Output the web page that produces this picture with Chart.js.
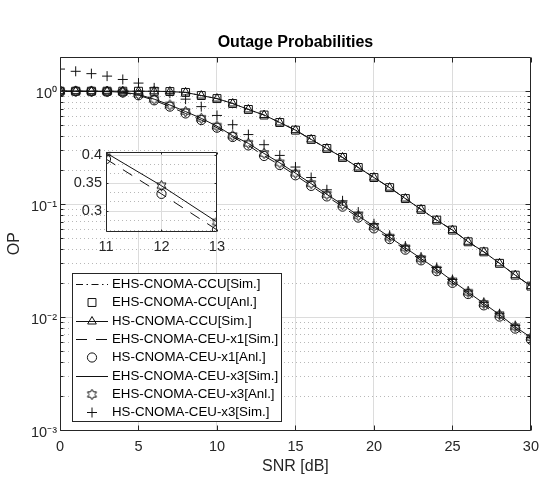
<!DOCTYPE html>
<html><head><meta charset="utf-8">
<script src="https://cdn.jsdelivr.net/npm/chart.js@4/dist/chart.umd.min.js"></script>
<style>
html,body{margin:0;padding:0;background:#fff;}
#wrap{position:relative;width:547px;height:484px;overflow:hidden;}
#main{position:absolute;left:0;top:0;}
#inset{position:absolute;left:60px;top:139px;}
</style></head><body>
<div id="wrap"><canvas id="main" width="547" height="484"></canvas><canvas id="inset" width="172" height="117"></canvas></div>
<script>
// ---------------- data ----------------
const snr = [0,1,2,3,4,5,6,7,8,9,10,11,12,13,14,15,16,17,18,19,20,21,22,23,24,25,26,27,28,29,30];
const ehsCcuSim = [1.0,1.0,1.0,1.0,1.0,0.999,0.998,0.993,0.975,0.915,0.86,0.778,0.689,0.615,0.528,0.452,0.374,0.311,0.259,0.211,0.172,0.140,0.112,0.0898,0.0722,0.0589,0.0464,0.0378,0.0299,0.0235,0.0188];
const ehsCcuAnl = [1.0,1.0,1.0,1.0,1.0,0.999,0.998,0.993,0.975,0.915,0.86,0.778,0.689,0.615,0.528,0.452,0.374,0.311,0.259,0.211,0.172,0.140,0.112,0.0898,0.0722,0.0589,0.0464,0.0378,0.0299,0.0235,0.0188];
const hsCcuSim  = [1.0,1.0,1.0,1.0,1.0,0.999,0.998,0.993,0.975,0.915,0.86,0.778,0.689,0.615,0.528,0.452,0.374,0.311,0.259,0.211,0.172,0.140,0.112,0.0898,0.0722,0.0589,0.0464,0.0378,0.0299,0.0235,0.0188];
const ehsCeuX1Sim = [1.0,0.998,0.995,0.99,0.975,0.92,0.83,0.73,0.635,0.555,0.475,0.393,0.331,0.267,0.222,0.18,0.145,0.117,0.095,0.076,0.061,0.049,0.0395,0.0318,0.0255,0.0201,0.016,0.0127,0.0101,0.0079,0.0063];
const hsCeuX1Anl  = [1.0,0.998,0.995,0.99,0.975,0.92,0.83,0.73,0.635,0.555,0.475,0.393,0.331,0.267,0.222,0.18,0.145,0.117,0.095,0.076,0.061,0.049,0.0395,0.0318,0.0255,0.0201,0.016,0.0127,0.0101,0.0079,0.0063];
const ehsCeuX3Sim = [1.0,1.0,0.997,0.993,0.98,0.935,0.85,0.755,0.66,0.575,0.49,0.404,0.3455,0.281,0.232,0.188,0.152,0.122,0.099,0.079,0.0635,0.051,0.041,0.033,0.0265,0.0209,0.0166,0.0132,0.0105,0.0082,0.0066];
const ehsCeuX3Anl = [1.0,1.0,0.997,0.993,0.98,0.935,0.85,0.755,0.66,0.575,0.49,0.404,0.3455,0.281,0.232,0.188,0.152,0.122,0.099,0.079,0.0635,0.051,0.041,0.033,0.0265,0.0209,0.0166,0.0132,0.0105,0.0082,0.0066];
const hsCeuX3Sim  = [1.57,1.50,1.43,1.36,1.27,1.18,1.07,0.96,0.85,0.73,0.61,0.505,0.413,0.336,0.27,0.213,0.172,0.134,0.107,0.085,0.067,0.053,0.0425,0.034,0.0275,0.0215,0.017,0.0135,0.0107,0.0084,0.0066];
const xTicks = [0,5,10,15,20,25,30];
const yDecades = [-3,-2,-1,0];
const insetXTicks = [11,12,13];
const insetYTicks = [0.3,0.35,0.4];

// ---------------- styling helpers ----------------
const FONT = "'Liberation Sans', Arial, Helvetica, sans-serif";
const AX = '#262626';
const LINE = '#111111';
const MAJOR_GRID = '#dcdcdc';
const MINOR_GRID = '#b8b8b8';
const sup = {'-':'\u207B','0':'\u2070','1':'\u00B9','2':'\u00B2','3':'\u00B3'};
function isPow10(v){ const l = Math.log10(v); return Math.abs(l - Math.round(l)) < 1e-9; }
function pow10Label(v){ const e = String(Math.round(Math.log10(v))); return '10' + e.split('').map(c => sup[c] || c).join(''); }

const yAllTicks = [];
yDecades.forEach(d => { for (let m = 1; m <= 9; m++) { const v = +(m * Math.pow(10, d)).toPrecision(6); if (v < 2) yAllTicks.push(v); } });

function makeHexagram(r, color) {
  const s = Math.ceil(2 * r + 4);
  const c = document.createElement('canvas'); c.width = s; c.height = s;
  const g = c.getContext('2d');
  g.strokeStyle = color; g.lineWidth = 1;
  g.beginPath();
  const cx = s / 2, cy = s / 2, ri = r / Math.sqrt(3);
  for (let k = 0; k < 12; k++) {
    const ang = -Math.PI / 2 + k * Math.PI / 6;
    const rr = (k % 2 === 0) ? r : ri;
    const px = cx + rr * Math.cos(ang), py = cy + rr * Math.sin(ang);
    if (k) g.lineTo(px, py); else g.moveTo(px, py);
  }
  g.closePath(); g.stroke();
  return c;
}
const hexagram = makeHexagram(5.2, LINE);
const pts = arr => snr.map((x, i) => ({x: x, y: arr[i]}));

const DASHDOT = [7, 3.5, 1.5, 3.5];
const DASHED = [11, 9];

function ds(label, arr, o) {
  return Object.assign({
    label: label, data: pts(arr), borderColor: LINE, borderWidth: 1,
    pointBorderColor: LINE, pointBackgroundColor: 'rgba(0,0,0,0)', pointBorderWidth: 1,
    pointRadius: 0, showLine: true, tension: 0, fill: false, borderDash: []
  }, o);
}

const mainDatasets = [
  ds('EHS-CNOMA-CCU[Sim.]', ehsCcuSim, {borderDash: DASHDOT}),
  ds('EHS-CNOMA-CCU[Anl.]', ehsCcuAnl, {showLine: false, pointStyle: 'rect', pointRadius: 5.6}),
  ds('HS-CNOMA-CCU[Sim.]', hsCcuSim, {pointStyle: 'triangle', pointRadius: 5}),
  ds('EHS-CNOMA-CEU-x1[Sim.]', ehsCeuX1Sim, {borderDash: DASHED}),
  ds('HS-CNOMA-CEU-x1[Anl.]', hsCeuX1Anl, {showLine: false, pointStyle: 'circle', pointRadius: 4.6}),
  ds('EHS-CNOMA-CEU-x3[Sim.]', ehsCeuX3Sim, {}),
  ds('EHS-CNOMA-CEU-x3[Anl.]', ehsCeuX3Anl, {showLine: false, pointStyle: hexagram, pointRadius: 5}),
  ds('HS-CNOMA-CEU-x3[Sim.]', hsCeuX3Sim, {showLine: false, pointStyle: 'cross', pointRadius: 5})
];

const px = v => Math.round(v) + 0.5;

function drawMarker(ctx, style, r, x, y) {
  ctx.save();
  ctx.strokeStyle = LINE; ctx.fillStyle = 'rgba(0,0,0,0)'; ctx.lineWidth = 1; ctx.setLineDash([]);
  if (Chart.helpers && Chart.helpers.drawPoint) {
    Chart.helpers.drawPoint(ctx, {pointStyle: style, radius: r, borderWidth: 1, rotation: 0}, x, y);
  } else if (style instanceof HTMLCanvasElement) {
    ctx.drawImage(style, x - style.width / 2, y - style.height / 2);
  }
  ctx.restore();
}

const mainFrame = {
  id: 'mainFrame',
  afterDraw(chart) {
    const {ctx, chartArea: a} = chart;
    const xs = chart.scales.x, ys = chart.scales.y;
    const L = px(a.left), R = px(a.right) - 1, T = px(a.top), B = px(a.bottom);
    ctx.save();
    ctx.strokeStyle = AX; ctx.lineWidth = 1; ctx.setLineDash([]);
    ctx.beginPath();
    ctx.rect(L, T, R - L, B - T);
    xTicks.forEach(v => {
      const X = px(xs.getPixelForValue(v));
      ctx.moveTo(X, B); ctx.lineTo(X, B - 5);
      ctx.moveTo(X, T); ctx.lineTo(X, T + 5);
    });
    yAllTicks.forEach(v => {
      const Y = px(ys.getPixelForValue(v));
      const len = isPow10(v) ? 5 : 3;
      ctx.moveTo(L, Y); ctx.lineTo(L + len, Y);
      ctx.moveTo(R, Y); ctx.lineTo(R - len, Y);
    });
    ctx.stroke();

    // legend
    const bx = Math.round(a.left) + 12, by = Math.round(a.bottom) - 157, bw = 209, bh = 148;
    ctx.fillStyle = '#ffffff';
    ctx.fillRect(bx, by, bw, bh);
    ctx.strokeStyle = AX;
    ctx.strokeRect(bx + 0.5, by + 0.5, bw, bh);
    ctx.font = '13.3px ' + FONT;
    ctx.textBaseline = 'middle'; ctx.textAlign = 'left';
    chart.data.datasets.forEach((d, i) => {
      const y = by + 11 + i * 18.33;
      if (d.showLine !== false) {
        ctx.save();
        ctx.strokeStyle = LINE; ctx.lineWidth = 1;
        ctx.setLineDash(d.borderDash || []);
        ctx.beginPath(); ctx.moveTo(bx + 4, Math.round(y) + 0.5); ctx.lineTo(bx + 36, Math.round(y) + 0.5); ctx.stroke();
        ctx.restore();
      }
      if (d.pointRadius > 0) drawMarker(ctx, d.pointStyle, d.pointRadius, bx + 20, Math.round(y) + 0.5);
      ctx.fillStyle = '#000';
      ctx.fillText(d.label, bx + 40, y + 0.5);
    });
    ctx.restore();
  }
};

new Chart(document.getElementById('main'), {
  type: 'line',
  data: {datasets: mainDatasets},
  options: {
    responsive: false, animation: false, devicePixelRatio: 1, events: [],
    layout: {padding: {left: 0, right: 14, top: 0, bottom: 0}},
    plugins: {
      legend: {display: false}, tooltip: {enabled: false},
      title: {display: true, fullSize: false, text: 'Outage Probabilities', color: '#000',
        font: {family: FONT, size: 16, weight: 'bold'}, padding: {top: 33, bottom: 5}}
    },
    scales: {
      x: {
        type: 'linear', min: 0, max: 30, bounds: 'data',
        afterBuildTicks: s => { s.ticks = xTicks.map(v => ({value: v})); },
        afterFit: s => { s.height = 54; },
        grid: {color: MAJOR_GRID, lineWidth: 1, drawTicks: false},
        border: {display: false},
        ticks: {padding: 8, color: AX, autoSkip: false, maxRotation: 0, font: {family: FONT, size: 14.5}},
        title: {display: true, text: 'SNR [dB]', color: AX, font: {family: FONT, size: 16}, padding: {top: 0, bottom: 8}}
      },
      y: {
        type: 'logarithmic', min: 1e-3, max: 2, bounds: 'data',
        afterBuildTicks: s => { s.ticks = yAllTicks.map(v => ({value: v, major: isPow10(v)})); },
        afterFit: s => { s.width = 60; },
        grid: {
          drawTicks: false, lineWidth: 1,
          color: c => (c.tick && !isPow10(c.tick.value)) ? MINOR_GRID : MAJOR_GRID
        },
        border: {display: false, dash: c => (c.tick && !isPow10(c.tick.value)) ? [1, 3] : []},
        ticks: {
          padding: 3, color: AX, autoSkip: false, labelOffset: 3, font: {family: FONT, size: 14.5},
          callback: v => isPow10(v) ? pow10Label(v) : ''
        },
        title: {display: true, text: 'OP', color: AX, font: {family: FONT, size: 16}, padding: {top: 4.5, bottom: 0}}
      }
    }
  },
  plugins: [mainFrame]
});

// ---------------- inset ----------------
const insetIdx = insetXTicks.map(v => snr.indexOf(v));
const sub = arr => insetIdx.map(i => ({x: snr[i], y: arr[i]}));
const insetMinor = [];
for (let k = -2; k <= 6; k++) insetMinor.push(+(0.3 + k * 0.05 / 3).toFixed(6));
const isInsetMajor = v => insetYTicks.some(t => Math.abs(t - v) < 1e-6);

const insetDatasets = [
  Object.assign(ds('EHS-CNOMA-CEU-x1[Sim.]', ehsCeuX1Sim, {borderDash: DASHED}), {data: sub(ehsCeuX1Sim)}),
  Object.assign(ds('HS-CNOMA-CEU-x1[Anl.]', hsCeuX1Anl, {showLine: false, pointStyle: 'circle', pointRadius: 4.6}), {data: sub(hsCeuX1Anl)}),
  Object.assign(ds('EHS-CNOMA-CEU-x3[Sim.]', ehsCeuX3Sim, {}), {data: sub(ehsCeuX3Sim)}),
  Object.assign(ds('EHS-CNOMA-CEU-x3[Anl.]', ehsCeuX3Anl, {showLine: false, pointStyle: hexagram, pointRadius: 5}), {data: sub(ehsCeuX3Anl)})
];

const insetFrame = {
  id: 'insetFrame',
  beforeDraw(chart) {
    const {ctx, chartArea: a} = chart;
    ctx.save(); ctx.fillStyle = '#fff';
    ctx.fillRect(a.left, a.top, a.right - a.left, a.bottom - a.top);
    ctx.restore();
  },
  afterDraw(chart) {
    const {ctx, chartArea: a} = chart;
    const xs = chart.scales.x, ys = chart.scales.y;
    const L = px(a.left), R = px(a.right) - 1, T = px(a.top), B = px(a.bottom);
    ctx.save();
    ctx.strokeStyle = AX; ctx.lineWidth = 1; ctx.setLineDash([]);
    ctx.beginPath();
    ctx.rect(L, T, R - L, B - T);
    insetXTicks.forEach(v => {
      const X = px(xs.getPixelForValue(v));
      ctx.moveTo(X, B); ctx.lineTo(X, B - 2);
      ctx.moveTo(X, T); ctx.lineTo(X, T + 2);
    });
    insetYTicks.forEach(v => {
      const Y = px(ys.getPixelForValue(v));
      ctx.moveTo(L, Y); ctx.lineTo(L + 2, Y);
      ctx.moveTo(R, Y); ctx.lineTo(R - 2, Y);
    });
    ctx.stroke();
    ctx.restore();
  }
};

new Chart(document.getElementById('inset'), {
  type: 'line',
  data: {datasets: insetDatasets},
  options: {
    responsive: false, animation: false, devicePixelRatio: 1, events: [],
    layout: {padding: {left: 0, right: 14, top: 10, bottom: 0}},
    plugins: {legend: {display: false}, tooltip: {enabled: false}, title: {display: false}},
    scales: {
      x: {
        type: 'linear', min: 11, max: 13, bounds: 'data',
        afterBuildTicks: s => { s.ticks = insetXTicks.map(v => ({value: v})); },
        afterFit: s => { s.height = 25; },
        grid: {color: MAJOR_GRID, lineWidth: 1, drawTicks: false},
        border: {display: false},
        ticks: {padding: 7, color: AX, autoSkip: false, maxRotation: 0, font: {family: FONT, size: 14.5}}
      },
      y: {
        type: 'linear', min: 0.265, max: 0.406, bounds: 'data',
        afterBuildTicks: s => { s.ticks = insetMinor.map(v => ({value: v})); },
        afterFit: s => { s.width = 46; },
        grid: {drawTicks: false, lineWidth: 1, color: c => (c.tick && !isInsetMajor(c.tick.value)) ? MINOR_GRID : MAJOR_GRID},
        border: {display: false, dash: c => (c.tick && !isInsetMajor(c.tick.value)) ? [1, 3] : []},
        ticks: {padding: 4, color: AX, autoSkip: false, font: {family: FONT, size: 14.5},
          callback: v => isInsetMajor(v) ? String(+v.toFixed(2)) : ''}
      }
    }
  },
  plugins: [insetFrame]
});
</script>
</body></html>
